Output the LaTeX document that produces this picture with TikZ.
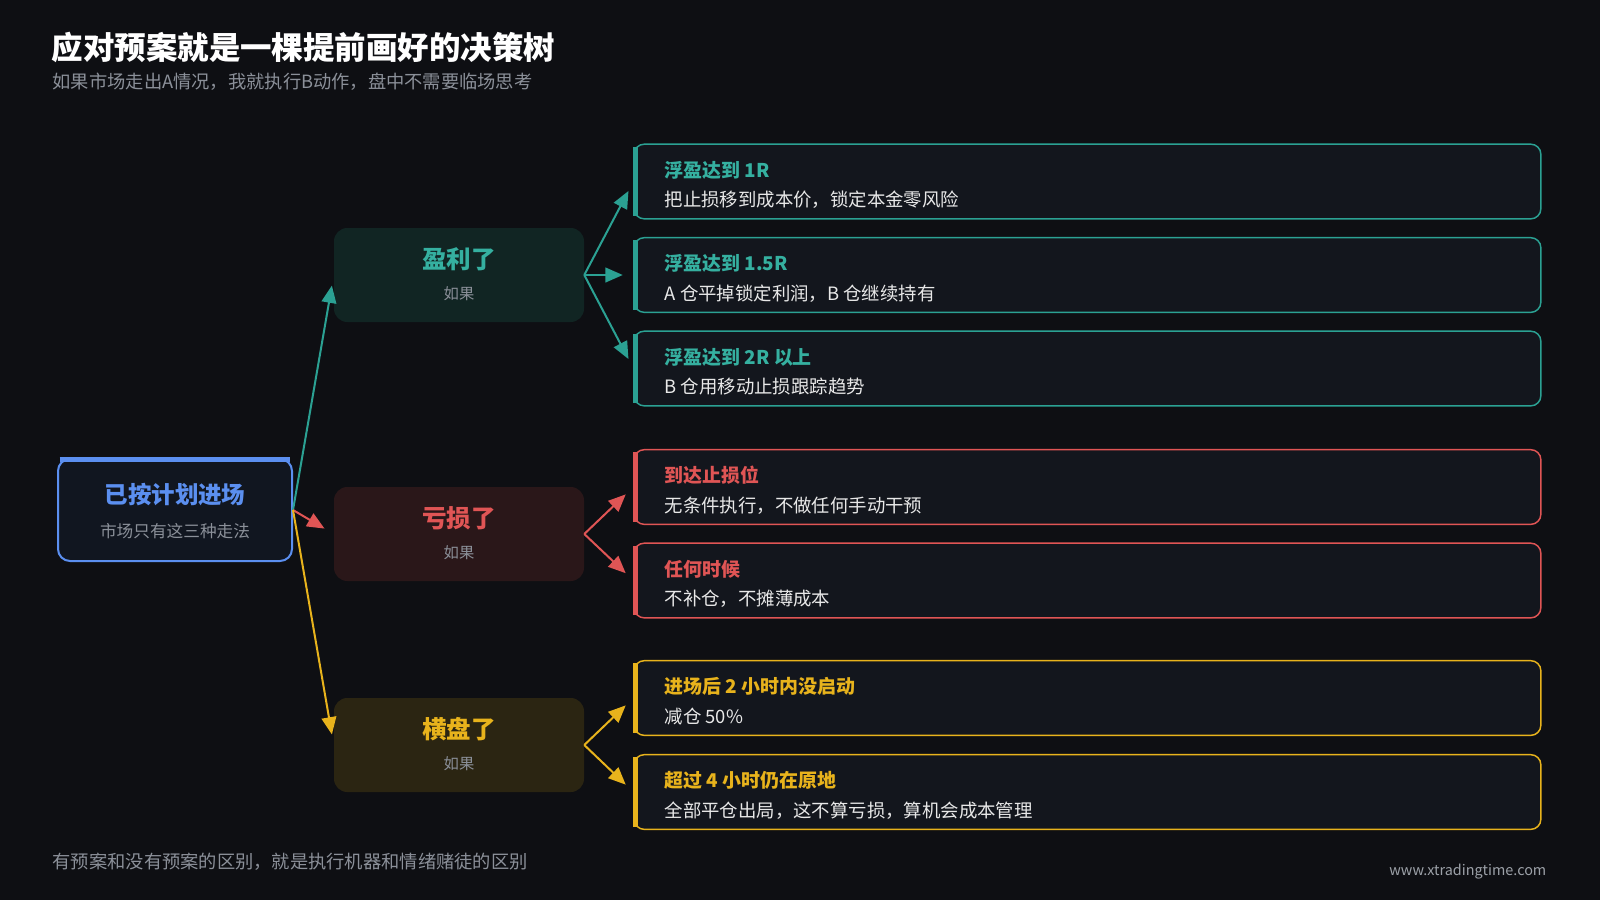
\documentclass[tikz,border=0pt]{standalone}
\usepackage{fontspec}
\setmainfont{Noto Sans CJK SC}
\usepackage{tikz}
\usetikzlibrary{arrows.meta}

\definecolor{bg}{HTML}{0E0F13}
\definecolor{teal}{HTML}{2BA193}
\definecolor{tealtxt}{HTML}{35B0A0}
\definecolor{redc}{HTML}{E05555}
\definecolor{yel}{HTML}{E8B31C}
\definecolor{bluec}{HTML}{5B8FF0}
\definecolor{grey}{HTML}{8B9099}
\definecolor{body}{HTML}{E8E8E8}
\definecolor{cardfill}{HTML}{13161D}
\definecolor{rootfill}{HTML}{111620}
\definecolor{tealfill}{HTML}{112523}
\definecolor{redfill}{HTML}{2A1719}
\definecolor{yelfill}{HTML}{2B2512}

\tikzset{
  rootbox/.style={draw=bluec, fill=rootfill, line width=1.5pt, rounded corners=9pt,
    minimum width=175.5pt, minimum height=76.5pt, inner sep=0pt},
  casebox/.style={fill=#1, rounded corners=10pt, minimum width=187.5pt,
    minimum height=70.5pt, inner sep=0pt},
  planbox/.style={draw=#1, fill=cardfill, line width=1.1pt, rounded corners=7.5pt,
    minimum width=680pt, minimum height=56pt, inner sep=0pt},
  flow/.style={color=#1, line width=1.5pt, shorten >=8pt,
    -{Triangle[length=13pt,width=11pt]}},
  casetitle/.style={text=#1, font=\bfseries\fontsize{18.4}{22}\selectfont},
  casesub/.style={text=grey, font=\fontsize{11.5}{14}\selectfont},
  plantitle/.style={anchor=west, text=#1, font=\bfseries\fontsize{14.2}{17}\selectfont},
  planbody/.style={anchor=west, text=body, font=\fontsize{13.8}{17}\selectfont}
}

\begin{document}
\begin{tikzpicture}[x=0.75pt, y=-0.75pt]

	\fill[bg] (0,0) rectangle (1600,900);

	\node[anchor=west, text=white, font=\bfseries\fontsize{23.6}{28}\selectfont] (title) at (47, 47) {应对预案就是一棵提前画好的决策树};
	\node[anchor=west, text=grey, font=\fontsize{13.7}{17}\selectfont] (subtitle) at (48, 82) {如果市场走出A情况，我就执行B动作，盘中不需要临场思考};

	\node[rootbox] (root) at (175, 510) {};
	\draw[bluec, line width=3.5pt] ([xshift=2pt, yshift=-1.2pt]root.north west) -- ([xshift=-2pt, yshift=-1.2pt]root.north east);
	\node[text=bluec, font=\bfseries\fontsize{17.6}{21}\selectfont] (roott) at (175, 495) {已按计划进场};
	\node[text=grey, font=\fontsize{12.5}{15}\selectfont] (roots) at (175, 531) {市场只有这三种走法};

	\node[casebox=tealfill] (win) at (459, 275) {};
	\node[casetitle=tealtxt] (wint) at (459, 259) {盈利了};
	\node[casesub] (wins) at (459, 294) {如果};

	\node[casebox=redfill] (loss) at (459, 534) {};
	\node[casetitle=redc] (losst) at (459, 518) {亏损了};
	\node[casesub] (losss) at (459, 553) {如果};

	\node[casebox=yelfill] (flat) at (459, 745) {};
	\node[casetitle=yel] (flatt) at (459, 729) {横盘了};
	\node[casesub] (flats) at (459, 764) {如果};

	\node[planbox=teal] (p1) at (1087.5, 181.5) {};
	\node[planbox=teal] (p2) at (1087.5, 275) {};
	\node[planbox=teal] (p3) at (1087.5, 368.5) {};
	\node[planbox=redc] (p4) at (1087.5, 487) {};
	\node[planbox=redc] (p5) at (1087.5, 580.5) {};
	\node[planbox=yel] (p6) at (1087.5, 698) {};
	\node[planbox=yel] (p7) at (1087.5, 792) {};

	\draw[teal, line width=3.4pt] ([xshift=1.6pt, yshift=-2.5pt]p1.north west) -- ([xshift=1.6pt, yshift=2.5pt]p1.south west);
	\draw[teal, line width=3.4pt] ([xshift=1.6pt, yshift=-2.5pt]p2.north west) -- ([xshift=1.6pt, yshift=2.5pt]p2.south west);
	\draw[teal, line width=3.4pt] ([xshift=1.6pt, yshift=-2.5pt]p3.north west) -- ([xshift=1.6pt, yshift=2.5pt]p3.south west);
	\draw[redc, line width=3.4pt] ([xshift=1.6pt, yshift=-2.5pt]p4.north west) -- ([xshift=1.6pt, yshift=2.5pt]p4.south west);
	\draw[redc, line width=3.4pt] ([xshift=1.6pt, yshift=-2.5pt]p5.north west) -- ([xshift=1.6pt, yshift=2.5pt]p5.south west);
	\draw[yel, line width=3.4pt] ([xshift=1.6pt, yshift=-2.5pt]p6.north west) -- ([xshift=1.6pt, yshift=2.5pt]p6.south west);
	\draw[yel, line width=3.4pt] ([xshift=1.6pt, yshift=-2.5pt]p7.north west) -- ([xshift=1.6pt, yshift=2.5pt]p7.south west);

	\node[plantitle=tealtxt] (p1t) at (660, 170) {浮盈达到 1R};
	\node[planbody] (p1b) at (660, 200) {把止损移到成本价，锁定本金零风险};
	\node[plantitle=tealtxt] (p2t) at (660, 263.5) {浮盈达到 1.5R};
	\node[planbody] (p2b) at (660, 293.5) {A 仓平掉锁定利润，B 仓继续持有};
	\node[plantitle=tealtxt] (p3t) at (660, 357) {浮盈达到 2R 以上};
	\node[planbody] (p3b) at (660, 387) {B 仓用移动止损跟踪趋势};
	\node[plantitle=redc] (p4t) at (660, 475.5) {到达止损位};
	\node[planbody] (p4b) at (660, 505.5) {无条件执行，不做任何手动干预};
	\node[plantitle=redc] (p5t) at (660, 569) {任何时候};
	\node[planbody] (p5b) at (660, 599) {不补仓，不摊薄成本};
	\node[plantitle=yel] (p6t) at (660, 686.5) {进场后 2 小时内没启动};
	\node[planbody] (p6b) at (660, 716.5) {减仓 50\%};
	\node[plantitle=yel] (p7t) at (660, 780.5) {超过 4 小时仍在原地};
	\node[planbody] (p7b) at (660, 810.5) {全部平仓出局，这不算亏损，算机会成本管理};

	\path[flow=teal] (root.east) edge (win.west);
	\path[flow=redc] (root.east) edge (loss.west);
	\path[flow=yel] (root.east) edge (flat.west);

	\path[flow=teal] (win.east) edge (p1.west);
	\path[flow=teal] (win.east) edge (p2.west);
	\path[flow=teal] (win.east) edge (p3.west);
	\path[flow=redc] (loss.east) edge (p4.west);
	\path[flow=redc] (loss.east) edge (p5.west);
	\path[flow=yel] (flat.east) edge (p6.west);
	\path[flow=yel] (flat.east) edge (p7.west);

	\node[anchor=west, text=grey, font=\fontsize{13.7}{17}\selectfont] (footer) at (48, 862) {有预案和没有预案的区别，就是执行机器和情绪赌徒的区别};
	\node[anchor=east, text=grey!85, font=\fontsize{10.8}{13}\selectfont] (site) at (1551, 872) {www.xtradingtime.com};

\end{tikzpicture}
\end{document}
